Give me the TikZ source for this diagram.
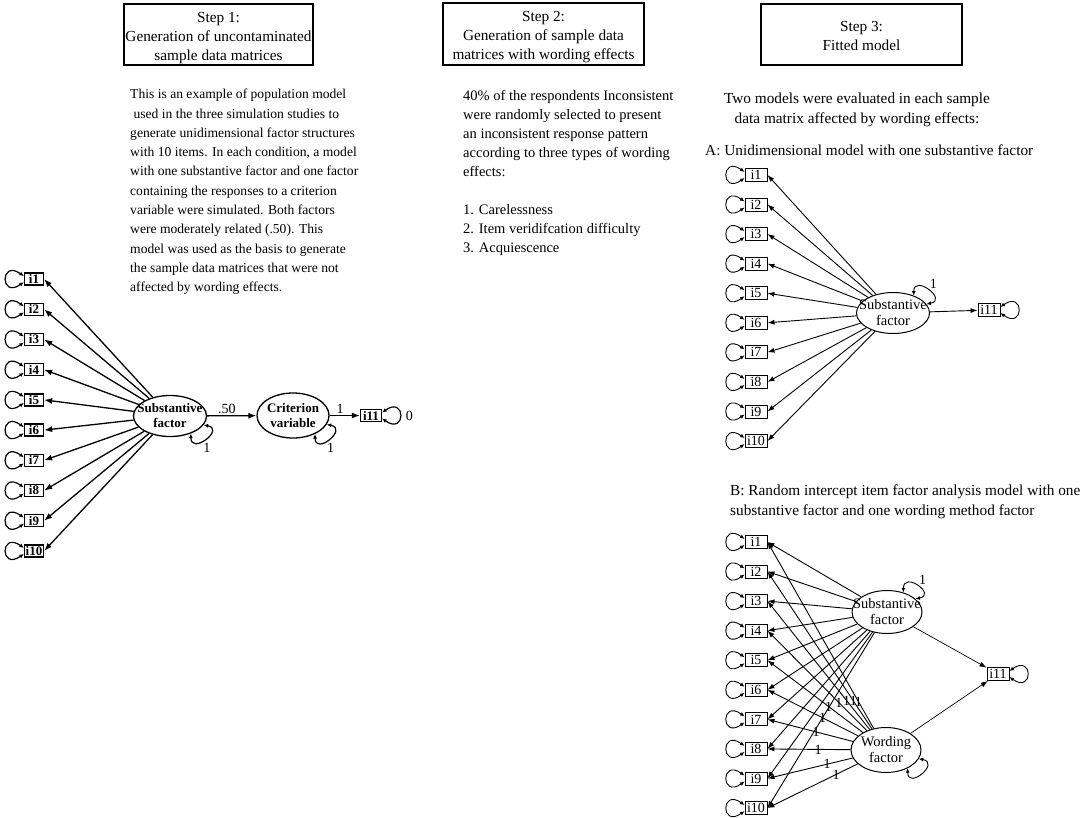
\documentclass[tikz,border=0pt]{standalone}
\usepackage{fontspec}
\setmainfont{Liberation Serif}
\usetikzlibrary{matrix, arrows.meta, shapes.geometric}

\tikzset{
  stepbox/.style={draw, line width=1.1pt, inner sep=0pt},
  steptext/.style={align=center, inner sep=0pt, font=\fontsize{15.3}{19}\selectfont},
  para/.style={align=left, inner sep=0pt},
  item/.style={draw, line width=.9pt, inner sep=0pt, minimum width=22pt, minimum height=13pt, font=\fontsize{14}{14}\selectfont},
  litem/.style={item, line width=1.3pt, minimum width=19pt, minimum height=12pt, font=\fontsize{13}{13}\bfseries\selectfont},
  factor/.style={draw, ellipse, line width=1pt, inner sep=0pt, minimum width=73pt, minimum height=41pt},
  ftext/.style={align=center, inner sep=0pt, font=\fontsize{14.5}{16}\selectfont},
  lftext/.style={ftext, font=\fontsize{13}{15}\bfseries\selectfont},
  load/.style={line width=.9pt, -{Latex[length=7pt, width=5pt]}},
  lload/.style={load, line width=1.3pt, -{Latex[length=8pt, width=6pt]}},
  resid/.style={line width=.9pt, {Latex[length=4.5pt, width=4pt]}-{Latex[length=4.5pt, width=4pt]}},
  lresid/.style={resid, line width=1.2pt},
  num/.style={font=\fontsize{14}{14}\selectfont, inner sep=1pt},
}

\begin{document}
\begin{tikzpicture}[x=1pt, y=-1pt]
\useasboundingbox (0,0) rectangle (1084,817);

\node[stepbox, minimum width=189pt, minimum height=61pt, label={[steptext, yshift=-3.5pt]center:Step 1:\\Generation of uncontaminated\\sample data matrices}] (s1) at (218.5,34.5) {};
\node[stepbox, minimum width=201pt, minimum height=62pt, label={[steptext, yshift=-3.5pt]center:Step 2:\\Generation of sample data\\matrices with wording effects}] (s2) at (543.5,34) {};
\node[stepbox, minimum width=201pt, minimum height=61pt, label={[steptext, yshift=-2pt]center:Step 3:\\Fitted model}] (s3) at (861.5,34.5) {};

\node[para, anchor=north west, font=\fontsize{13.6}{19.3}\selectfont] (t1) at (130,89) {This is an example of population model\\
\ used in the three simulation studies to\\
generate unidimensional factor structures\\
with 10 items. In each condition, a model\\
with one substantive factor and one factor\\
containing the responses to a criterion\\
variable were simulated. Both factors\\
were moderately related (.50). This\\
model was used as the basis to generate\\
the sample data matrices that were not\\
affected by wording effects.};

\node[para, anchor=north west, font=\fontsize{14.5}{19}\selectfont] (t2) at (463,90) {40\% of the respondents Inconsistent\\
were randomly selected to present\\
an inconsistent response pattern\\
according to three types of wording\\
effects:\\[19pt]
1. Carelessness\\
2. Item veridifcation difficulty\\
3. Acquiescence};

\node[para, align=center, anchor=north, font=\fontsize{15.3}{20}\selectfont] (t3) at (857,93) {Two models were evaluated in each sample\\data matrix affected by wording effects:};
\node[para, anchor=north west, font=\fontsize{15.3}{20}\selectfont] (ta) at (705,145) {A: Unidimensional model with one substantive factor};
\node[para, anchor=north west, font=\fontsize{15.3}{20}\selectfont] (tb) at (730,485) {B: Random intercept item factor analysis model with one\\substantive factor and one wording method factor};

% population model
\matrix (L) [matrix of nodes, nodes={litem}, row sep=16.9pt] at (34,415) {
i1\\ i2\\ i3\\ i4\\ i5\\ i6\\ i7\\ i8\\ i9\\ i10\\
};
\node[factor, line width=1.3pt, label={[lftext]center:Substantive\\factor}] (ls) at (170,416) {};
\node[factor, line width=1.3pt, minimum width=72pt, minimum height=45pt, label={[lftext]center:Criterion\\variable}] (lc) at (293,415.5) {};
\node[litem, minimum width=21pt] (li11) at (371,415.5) {i11};

\foreach \k in {1,...,10} {
  \draw[lload] (ls) -- (L-\k-1.east);
  \draw[lresid] ([yshift=3pt]L-\k-1.west) .. controls +(-24,-17) and +(-24,17) .. ([yshift=-3pt]L-\k-1.west);
}
\draw[lload] (ls) -- node[num, above, pos=.4]{.50} (lc);
\draw[lload] (lc) -- node[num, above, pos=.35]{1} (li11);
\draw[lresid] (ls.-40) .. controls +(0,22) and +(22,4) .. (ls.-15) node[num, pos=.4, below right]{1};
\draw[lresid] (lc.-40) .. controls +(0,22) and +(22,4) .. (lc.-15) node[num, pos=.4, below right]{1};
\draw[lresid] ([yshift=3pt]li11.east) .. controls +(24,-17) and +(24,17) .. ([yshift=-3pt]li11.east) node[num, pos=.5, right=4pt]{0};

% model A
\matrix (A) [matrix of nodes, nodes={item}, row sep=15.67pt] at (756,308) {
i1\\ i2\\ i3\\ i4\\ i5\\ i6\\ i7\\ i8\\ i9\\ i10\\
};
\node[factor, label={[ftext]center:Substantive\\factor}] (sa) at (893,313) {};
\node[item] (ai11) at (989,310) {i11};

\foreach \k in {1,...,10} {
  \draw[load] (sa) -- (A-\k-1.east);
  \draw[resid] ([yshift=3pt]A-\k-1.west) .. controls +(-24,-17) and +(-24,17) .. ([yshift=-3pt]A-\k-1.west);
}
\draw[load] (sa) -- (ai11);
\draw[resid] (sa.40) .. controls +(0,-22) and +(22,-4) .. (sa.15) node[num, pos=.5, above right]{1};
\draw[resid] ([yshift=3pt]ai11.east) .. controls +(24,-17) and +(24,17) .. ([yshift=-3pt]ai11.east);

% model B
\matrix (B) [matrix of nodes, nodes={item}, row sep=15.67pt] at (756,675) {
i1\\ i2\\ i3\\ i4\\ i5\\ i6\\ i7\\ i8\\ i9\\ i10\\
};
\node[factor, minimum width=70pt, minimum height=43pt, label={[ftext]center:Substantive\\factor}] (sb) at (887,612) {};
\node[factor, minimum width=70pt, minimum height=45pt, label={[ftext]center:Wording\\factor}] (wb) at (886,750) {};
\node[item] (bi11) at (998,674) {i11};

\foreach \k in {1,...,10}
  \draw[load] (sb) -- (B-\k-1.east);
\foreach \k/\p in {1/.145, 2/.178, 3/.225, 4/.28, 5/.36, 6/.39, 7/.43, 8/.39, 9/.3, 10/.24}
  \draw[load] (wb) -- node[num, pos=\p]{1} (B-\k-1.east);
\foreach \k in {1,...,10}
  \draw[resid] ([yshift=3pt]B-\k-1.west) .. controls +(-24,-17) and +(-24,17) .. ([yshift=-3pt]B-\k-1.west);
\draw[load, line width=.7pt] (sb) -- (bi11);
\draw[load, line width=.7pt] (wb) -- (bi11);
\draw[resid] (sb.50) .. controls +(0,-22) and +(22,-4) .. (sb.25) node[num, pos=.5, above right]{1};
\draw[resid] (wb.-40) .. controls +(0,22) and +(22,4) .. (wb.-15);
\draw[resid] ([yshift=3pt]bi11.east) .. controls +(24,-17) and +(24,17) .. ([yshift=-3pt]bi11.east);
\end{tikzpicture}
\end{document}
